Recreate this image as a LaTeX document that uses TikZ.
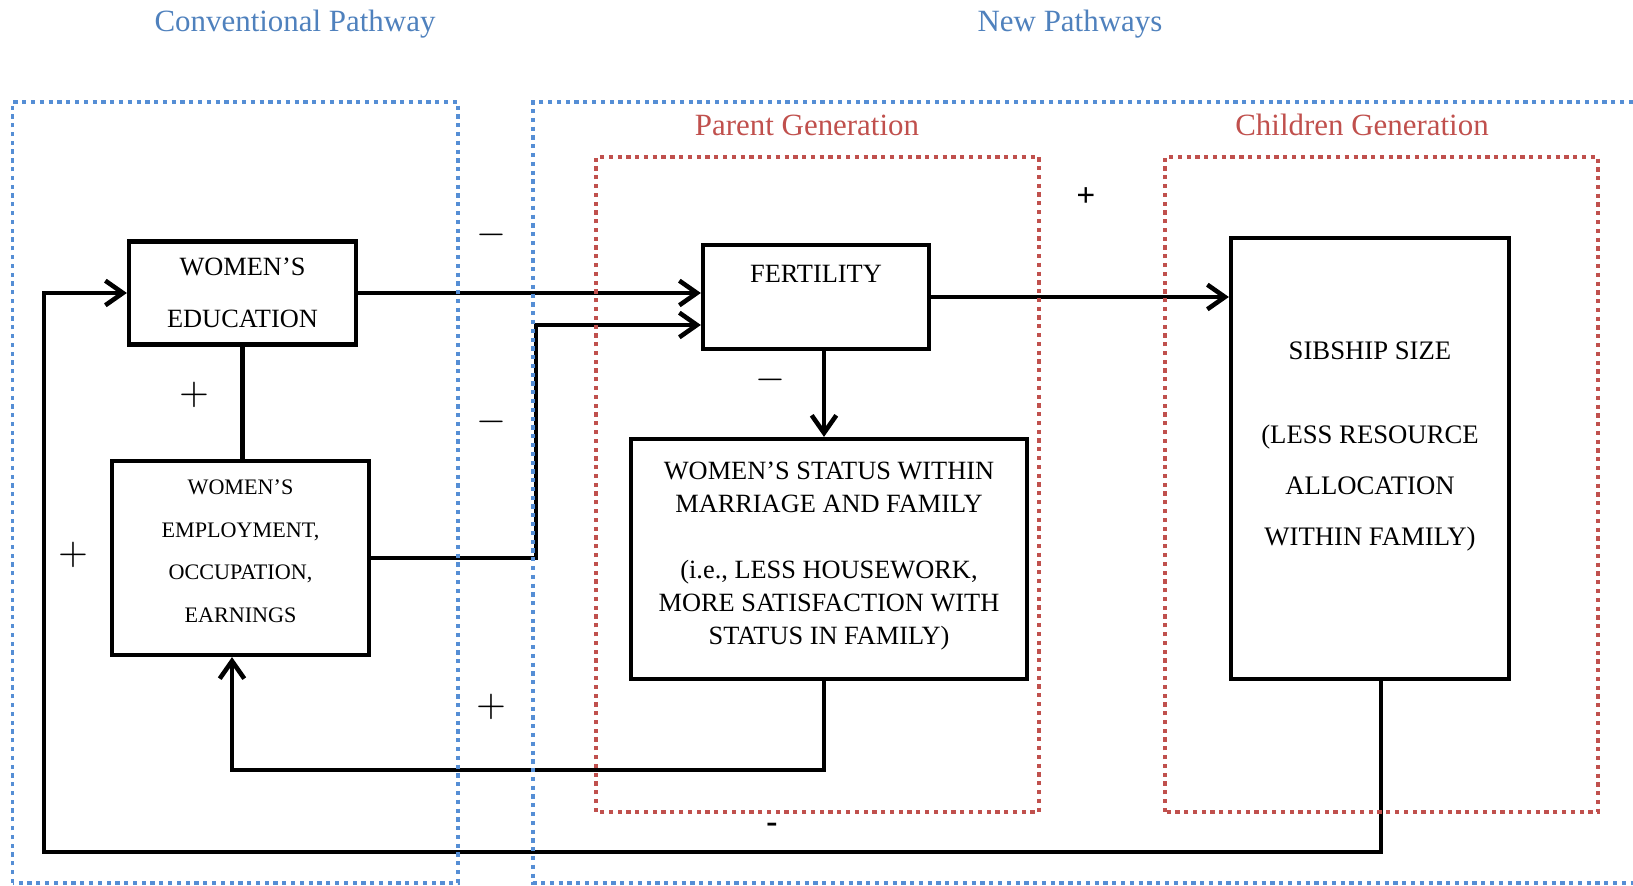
\documentclass[tikz,border=0pt]{standalone}
\usepackage{fontspec}
\setmainfont{Liberation Serif}
\usetikzlibrary{arrows.meta}
\definecolor{blupercorso}{RGB}{79,129,189}
\definecolor{blucornice}{RGB}{85,142,213}
\definecolor{rossogen}{RGB}{192,80,77}
\begin{document}
\begin{tikzpicture}[
	riquadro/.style={draw=black, fill=white, line width=1.2pt,
		align=center, inner sep=2pt,
		font=\fontsize{7.5}{9.4}\selectfont},
	freccia/.style={line width=1.3pt, line join=miter,
		-{Straight Barb[length=5pt,width=7pt]}},
	linea/.style={line width=1.3pt},
	corniceblu/.style={draw=blucornice, line width=1pt,
		dash pattern=on 1.2pt off 1.3pt},
	cornicerossa/.style={draw=rossogen, line width=1pt,
		dash pattern=on 1.2pt off 1.3pt},
	titoloblu/.style={text=blupercorso,
		font=\fontsize{8.8}{10}\selectfont},
	titolorosso/.style={text=rossogen,
		font=\fontsize{8.8}{10}\selectfont},
	segno/.style={font=\fontsize{11}{11}\selectfont},
	segnino/.style={font=\bfseries\fontsize{9.5}{9.5}\selectfont},
	]
	\useasboundingbox (0,0) rectangle (16.33,8.86);
	
	\node[titoloblu] (convenzionale) at (2.95,8.62) {Conventional Pathway};
	\node[titoloblu] (nuovi) at (10.70,8.62) {New Pathways};
	\node[titolorosso] (genitori) at (8.07,7.61) {Parent Generation};
	\node[titolorosso] (figli) at (13.62,7.61) {Children Generation};
	
	\node[riquadro, minimum width=2.27cm, minimum height=1.03cm,
		font=\fontsize{7.5}{14.8}\selectfont] (istruzione) at (2.425,5.93)
		{WOMEN’S\\EDUCATION};
	\node[riquadro, minimum width=2.57cm, minimum height=1.94cm,
		font=\fontsize{6.3}{12.1}\selectfont] (lavoro) at (2.405,3.28)
		{WOMEN’S\\EMPLOYMENT,\\OCCUPATION,\\EARNINGS\\[-8.1pt]~};
	\node[riquadro, minimum width=2.26cm, minimum height=1.04cm]
		(fecondita) at (8.16,5.89) {FERTILITY\\[3.7pt]~};
	\node[riquadro, minimum width=3.96cm, minimum height=2.40cm]
		(status) at (8.29,3.27)
		{WOMEN’S STATUS WITHIN\\MARRIAGE AND FAMILY\\~\\(i.e., LESS HOUSEWORK,\\MORE SATISFACTION WITH\\STATUS IN FAMILY)\\[-6pt]~};
	\node[riquadro, minimum width=2.78cm, minimum height=4.41cm,
		font=\fontsize{7.6}{14.5}\selectfont] (fratelli) at (13.70,4.275)
		{SIBSHIP SIZE\\[9.4pt](LESS RESOURCE\\ALLOCATION\\WITHIN FAMILY)\\[-6pt]~};
	
	\coordinate (gomito) at (5.36,5.61);
	\coordinate (asseF) at (8.24,0);
	\coordinate (ritornoA) at (2.32,1.16);
	\coordinate (asseS) at (13.81,0);
	\coordinate (ritornoB) at (0.44,0.34);
	\draw[freccia](istruzione.east)--(istruzione.east -| fecondita.west);
	\draw[freccia](lavoro.east)-|(gomito)--(gomito -| fecondita.west);
	\draw[freccia](fecondita.east)--(fecondita.east -| fratelli.west);
	\draw[linea](istruzione.south)--(istruzione.south |- lavoro.north);
	\draw[freccia](fecondita.south -| asseF)--(status.north -| asseF);
	\draw[freccia](status.south -| asseF)|-(ritornoA)--(ritornoA |- lavoro.south);
	\draw[freccia](fratelli.south -| asseS)|-(ritornoB)|-(istruzione.west);
	
	\node[segno] (meno1) at (4.91,6.51) {$-$};
	\node[segno] (meno2) at (4.91,4.64) {$-$};
	\node[segno] (piu1) at (1.94,4.91) {$+$};
	\node[segno] (piu2) at (0.73,3.31) {$+$};
	\node[segno] (piu3) at (4.91,1.79) {$+$};
	\node[segno] (meno3) at (7.70,5.06) {$-$};
	\node[segnino] (piu4) at (10.86,6.89) {+};
	\node[segnino] (meno4) at (7.72,0.58) {-};
	
	\draw[corniceblu](0.125,0.03) rectangle (4.58,7.84);
	\draw[corniceblu](16.33,7.84)--(5.33,7.84)--(5.33,0.03)--(16.33,0.03);
	\draw[cornicerossa](5.96,0.74) rectangle (10.39,7.29);
	\draw[cornicerossa](11.65,0.74) rectangle (15.98,7.29);
\end{tikzpicture}
\end{document}
